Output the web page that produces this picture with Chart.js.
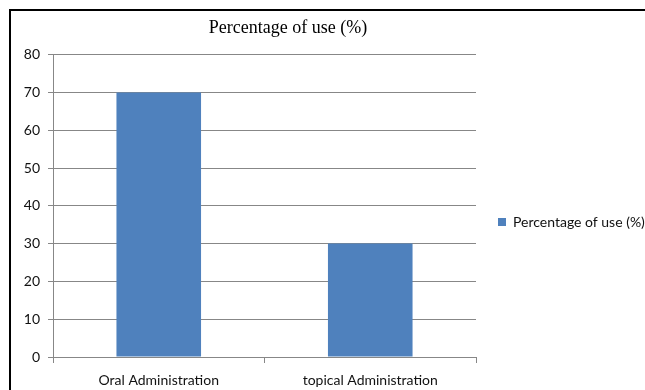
<!DOCTYPE html>
<html>
<head>
<meta charset="utf-8">
<script src="https://cdn.jsdelivr.net/npm/chart.js@4/dist/chart.umd.min.js"></script>
<style>
    html, body { margin: 0; padding: 0; background: #ffffff; overflow: hidden; }
    #wrap { position: relative; width: 645px; height: 390px; }
    #frame {
        position: absolute; left: 9px; top: 9px; width: 700px; height: 500px;
        border-left: 2px solid #000; border-top: 2px solid #000;
    }
    #chart { position: absolute; left: 0; top: 0; }
</style>
</head>
<body>
<div id="wrap">
    <div id="frame"></div>
    <canvas id="chart" width="645" height="390"></canvas>
</div>
<script>
// Routes of administration and their share of use
const categories = ['Oral Administration', 'topical Administration'];
const seriesLabel = 'Percentage of use (%)';
const usePercent = [70, 30];
const yMin = 0;
const yMax = 80;
const yStep = 10;

const gridColor = '#878787';
const barColor = '#4f81bd';
const tickFont = { family: 'Lato', size: 14 };

// Nudge the title and the legend after layout so they sit like the original
const placeBlocks = {
    id: 'placeBlocks',
    afterLayout(chart) {
        const t = chart.titleBlock;
        if (t) {
            t.left = 0;
            t.right = 576;
            t.width = 576;
        }
        const lg = chart.legend;
        if (lg) {
            lg.top += 27;
            lg.bottom += 27;
        }
    }
};

function initializeChart() {
    const canvas = document.getElementById('chart');
    const ctx = canvas.getContext('2d');

    new Chart(ctx, {
        type: 'bar',
        data: {
            labels: categories,
            datasets: [{
                label: seriesLabel,
                data: usePercent,
                backgroundColor: barColor,
                borderWidth: 0,
                categoryPercentage: 0.8,
                barPercentage: 0.5
            }]
        },
        options: {
            responsive: false,
            animation: false,
            devicePixelRatio: 1,
            layout: { padding: 0 },
            scales: {
                x: {
                    grid: {
                        display: true,
                        drawOnChartArea: false,
                        drawTicks: true,
                        tickLength: 6,
                        color: gridColor
                    },
                    border: { display: true, color: gridColor, width: 1 },
                    ticks: { color: '#111', font: tickFont, padding: 9, maxRotation: 0 },
                    afterFit(scale) { scale.height = 33; }
                },
                y: {
                    min: yMin,
                    max: yMax,
                    grid: {
                        color: gridColor,
                        tickLength: 5,
                        drawTicks: true
                    },
                    border: { display: true, color: gridColor, width: 1 },
                    ticks: { stepSize: yStep, color: '#111', font: tickFont, padding: 8 },
                    afterFit(scale) { scale.width = 53; }
                }
            },
            plugins: {
                title: {
                    display: true,
                    text: seriesLabel,
                    color: '#000',
                    font: { family: 'Liberation Serif', size: 18, weight: 'normal' },
                    padding: { top: 17, bottom: 16 }
                },
                legend: {
                    display: true,
                    position: 'right',
                    maxWidth: 169,
                    labels: {
                        boxWidth: 8,
                        boxHeight: 8,
                        padding: 22,
                        color: '#111',
                        font: tickFont
                    }
                },
                tooltip: { enabled: false }
            }
        },
        plugins: [placeBlocks]
    });
}

initializeChart();
</script>
</body>
</html>
